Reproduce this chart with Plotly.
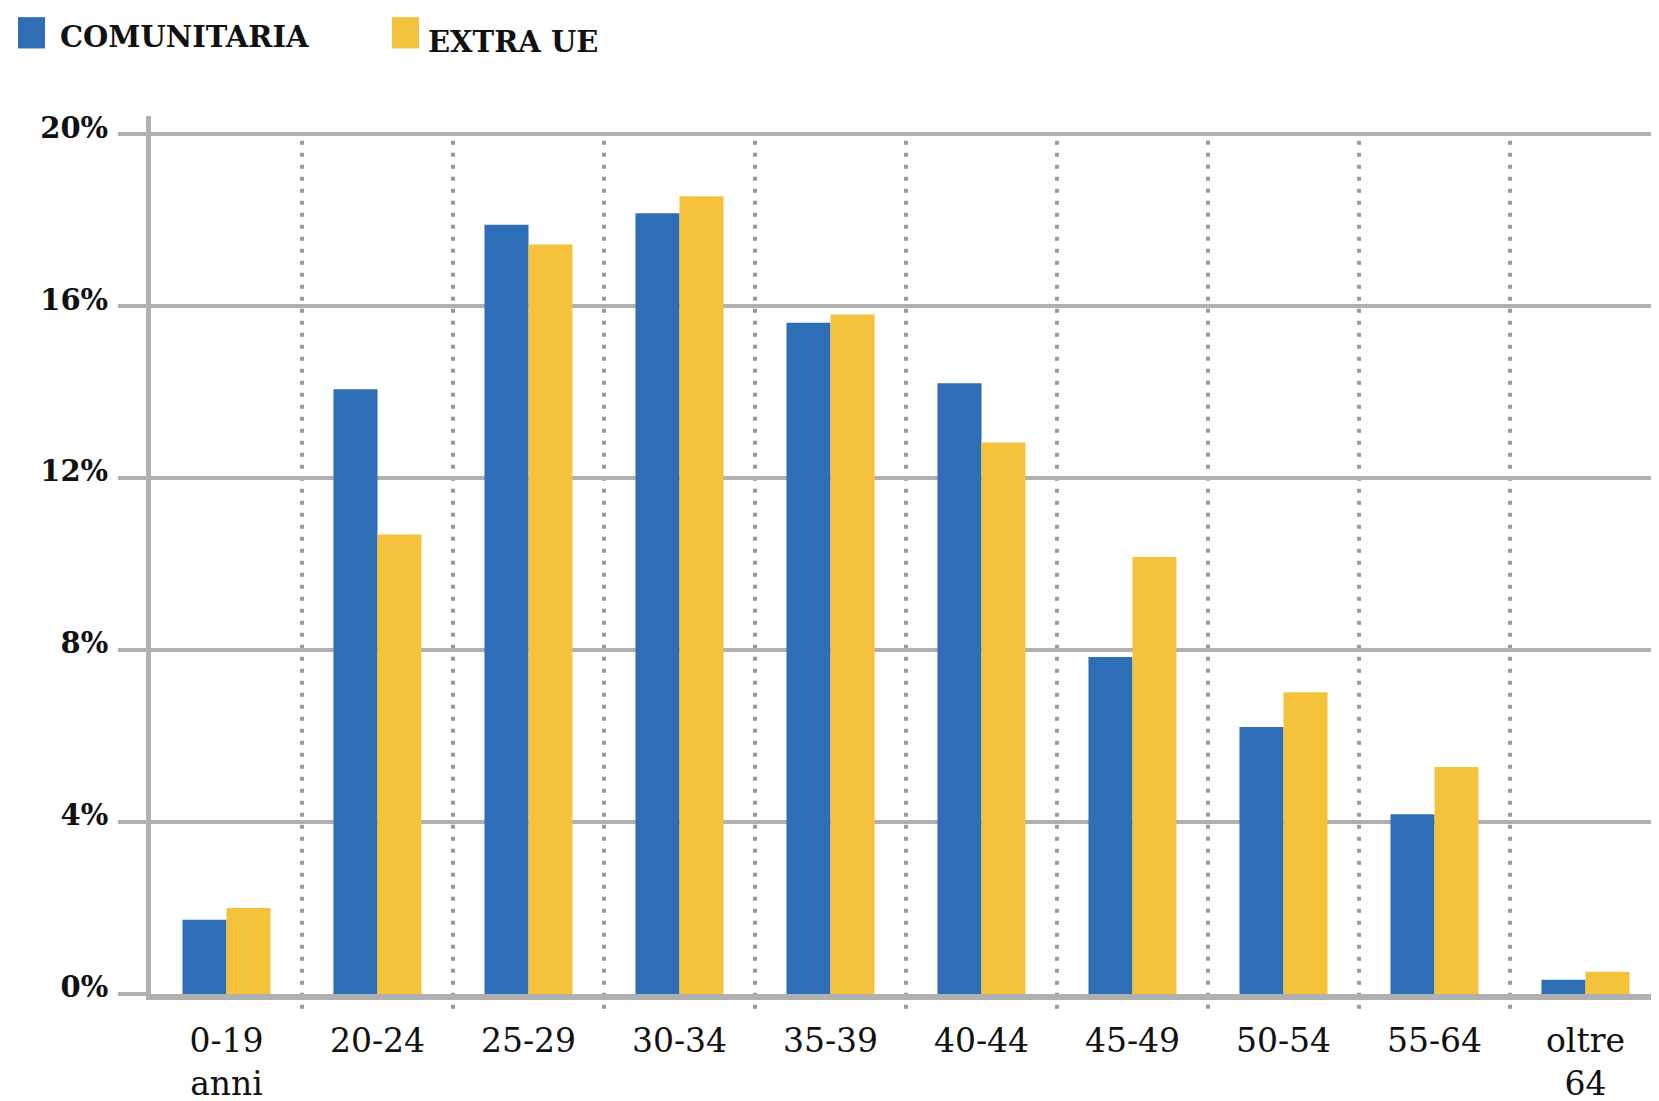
import plotly.graph_objects as go

# ---- data ----
categories = ["0-19<br>anni", "20-24", "25-29", "30-34", "35-39", "40-44",
              "45-49", "50-54", "55-64", "oltre<br>64"]
series_names = ["COMUNITARIA", "EXTRA UE"]
comunitaria = [1.73, 14.07, 17.90, 18.17, 15.62, 14.21, 7.84, 6.21, 4.18, 0.33]
extra_ue = [2.00, 10.69, 17.44, 18.56, 15.81, 12.83, 10.17, 7.02, 5.28, 0.52]
y_tick_vals = [0, 4, 8, 12, 16, 20]
y_tick_text = ["0%", "4%", "8%", "12%", "16%", "20%"]

# ---- style ----
W, H = 1659, 1101
L, R, T, B = 143, 6, 108, 96
PW, PH = W - L - R, H - T - B
YMAX = 20.43
BLUE = "#2d6eb6"
YELLOW = "#f5c23b"
GRID = "#b0b0b0"
DOT = "#9a9a9a"

def px_x(x):
    return (x - L) / PW

def px_y(y):
    return 1 - (y - T) / PH

fig = go.Figure()
fig.add_trace(go.Bar(x=categories, y=comunitaria, name=series_names[0],
                     marker=dict(color=BLUE, line=dict(width=0)), showlegend=False))
fig.add_trace(go.Bar(x=categories, y=extra_ue, name=series_names[1],
                     marker=dict(color=YELLOW, line=dict(width=0)), showlegend=False))

shapes = []
# dotted category separators
for i in range(len(categories) - 1):
    shapes.append(dict(type="line", xref="x", yref="paper",
                       x0=i + 0.5, x1=i + 0.5,
                       y0=-15 / PH, y1=y_tick_vals[-1] / YMAX,
                       line=dict(color=DOT, width=4, dash="4px,8px"),
                       layer="below"))

# manual legend
annotations = []
legend_items = [(series_names[0], BLUE, 10, 50, 27), (series_names[1], YELLOW, 384, 418, 32)]
for name, color, sx, tx, ty in legend_items:
    shapes.append(dict(type="rect", xref="paper", yref="paper",
                       x0=px_x(sx), x1=px_x(sx + 27), y0=px_y(39), y1=px_y(7),
                       fillcolor=color, line=dict(width=0)))
    annotations.append(dict(text=name, xref="paper", yref="paper",
                            x=px_x(tx), y=px_y(ty), xanchor="left", yanchor="middle",
                            showarrow=False,
                            font=dict(family="DejaVu Serif", size=29, color="#111111",
                                      weight="bold")))

fig.update_layout(
    width=W, height=H,
    margin=dict(l=L, r=R, t=T, b=B),
    paper_bgcolor="white", plot_bgcolor="white",
    barmode="group", bargap=0.417, bargroupgap=0,
    shapes=shapes, annotations=annotations,
    showlegend=False,
)
fig.update_xaxes(
    type="category",
    range=[-0.5, len(categories) - 0.5],
    showgrid=False, zeroline=False,
    showline=True, linecolor=GRID, linewidth=6,
    ticks="", ticklabelstandoff=12,
    tickfont=dict(family="DejaVu Serif", size=33, color="#111111"),
)
fig.update_yaxes(
    range=[0, YMAX],
    tickvals=y_tick_vals, ticktext=y_tick_text,
    showgrid=True, gridcolor=GRID, gridwidth=4,
    zeroline=False,
    showline=True, linecolor=GRID, linewidth=5,
    ticks="outside", ticklen=28, tickwidth=4, tickcolor=GRID,
    ticklabelstandoff=4, ticklabelshift=-7,
    tickfont=dict(family="DejaVu Serif", size=29, color="#111111", weight="bold"),
)

fig.write_html("out.html")
